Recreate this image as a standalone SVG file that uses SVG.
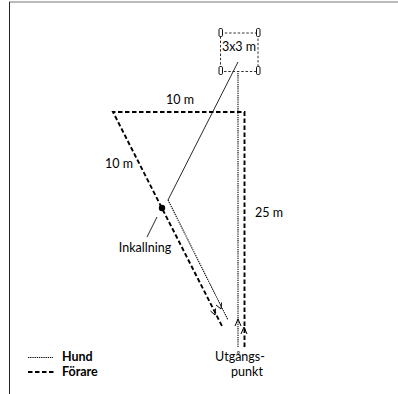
<svg xmlns="http://www.w3.org/2000/svg" width="398" height="394" viewBox="0 0 398 394">
<style>
text{font-family:"Lato","Open Sans","Liberation Sans",sans-serif;font-size:12.5px;fill:#000}
.b{font-weight:bold}
.f{fill:none;stroke:#000;stroke-width:1.9;stroke-dasharray:4.5 2.5}
.h{fill:none;stroke:#000;stroke-width:1.1;stroke-dasharray:1.3 0.9}
.hs{fill:none;stroke:#111;stroke-width:0.9}
.ar{fill:none;stroke:#000;stroke-width:1}
.box{fill:none;stroke:#333;stroke-width:1;stroke-dasharray:2.5 1.8}
.post{fill:#fff;stroke:#111;stroke-width:1}
</style>
<rect width="398" height="394" fill="#fff"/>
<line x1="9" y1="2" x2="398" y2="2" stroke="#777" stroke-width="1.2"/>
<line x1="9.5" y1="2" x2="9.5" y2="394" stroke="#222" stroke-width="1"/>
<g id="box">
<rect class="box" x="220.5" y="33" width="37.5" height="38.5"/>
<rect class="post" x="219" y="28.5" width="3.5" height="8" rx="1.2"/>
<rect class="post" x="256.5" y="28.5" width="3.5" height="8" rx="1.2"/>
<rect class="post" x="219" y="66.5" width="3.5" height="8" rx="1.2"/>
<rect class="post" x="256.5" y="66.5" width="3.5" height="8" rx="1.2"/>
<text x="239" y="51" text-anchor="middle">3x3 m</text>
</g>
<g id="connectors">
<path class="f" d="M244.5 347 V112 H113 L223 328"/>
<path class="h" d="M238 347 V72"/>
<path class="hs" d="M238 62 L168 200"/>
<path class="h" d="M168 200 L228 320"/>
<path class="ar" d="M241 334 L244 327 L247 334"/>
<path class="ar" d="M235 326 L238 319 L241 326"/>
<path class="ar" d="M210.5 311 L215 315 L215.5 308.5"/>
<path class="ar" d="M216 305 L221 309 L221.5 302.5"/>
<line x1="157" y1="217" x2="147" y2="237" stroke="#111" stroke-width="0.9"/>
</g>
<g id="inkallning">
<circle cx="162" cy="208" r="3.2" fill="#000"/>
<text x="145" y="252" text-anchor="middle">Inkallning</text>
</g>
<g id="labels">
<text x="180" y="104" text-anchor="middle">10 m</text>
<text x="119" y="168" text-anchor="middle">10 m</text>
<text x="269" y="217" text-anchor="middle">25 m</text>
<text x="240" y="361" text-anchor="middle">Utgångs-</text>
<text x="247" y="376" text-anchor="middle">punkt</text>
</g>
<g id="legend">
<line class="h" x1="28" y1="357.5" x2="53" y2="357.5"/>
<line class="f" x1="28" y1="372" x2="54" y2="372" stroke-dasharray="4.5 2.2"/>
<text class="b" x="62" y="361">Hund</text>
<text class="b" x="62" y="376">Förare</text>
</g>
</svg>
